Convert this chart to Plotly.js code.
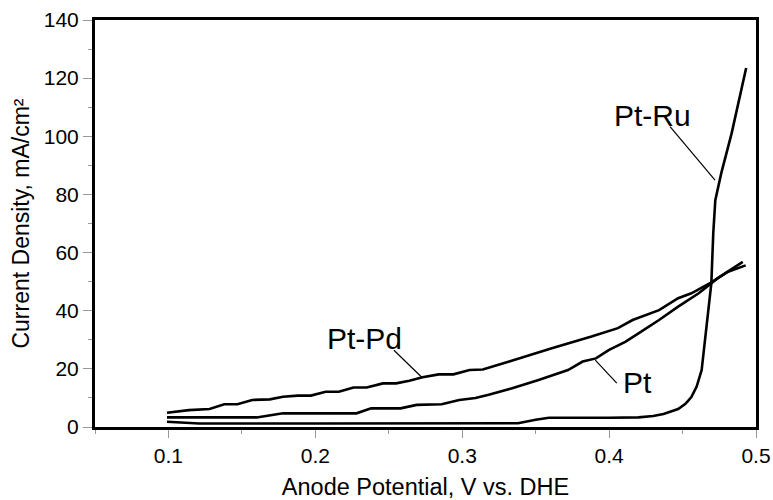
<!DOCTYPE html>
<html>
<head>
<meta charset="utf-8">
<script src="https://cdn.plot.ly/plotly-3.0.1.min.js"></script>
<style>html,body{margin:0;padding:0;background:#fff;}#chart{width:773px;height:500px;}</style>
</head>
<body>
<div id="chart"></div>
<script>
// Data
const ptPdX = [0.099, 0.114, 0.128, 0.138, 0.147, 0.157, 0.169, 0.178, 0.188, 0.197, 0.207, 0.216, 0.226, 0.235, 0.246, 0.255, 0.264, 0.273, 0.284, 0.294, 0.305, 0.314, 0.332, 0.361, 0.388, 0.406, 0.416, 0.434, 0.447, 0.456, 0.469, 0.481, 0.493];
const ptPdY = [4.9, 5.8, 6.2, 7.8, 7.8, 9.3, 9.5, 10.4, 10.8, 10.8, 12.1, 12.1, 13.6, 13.6, 15.0, 15.0, 15.9, 17.1, 18.1, 18.1, 19.6, 19.8, 22.5, 27.1, 31.1, 34.0, 36.8, 40.2, 44.3, 46.0, 49.6, 53.4, 55.6];

const ptX = [0.099, 0.160, 0.178, 0.228, 0.238, 0.258, 0.269, 0.286, 0.298, 0.309, 0.318, 0.334, 0.352, 0.372, 0.382, 0.391, 0.400, 0.411, 0.420, 0.434, 0.447, 0.461, 0.474, 0.491];
const ptY = [3.3, 3.3, 4.7, 4.7, 6.4, 6.4, 7.6, 7.8, 9.3, 10.0, 11.1, 13.3, 16.2, 19.6, 22.5, 23.6, 26.5, 29.3, 32.2, 36.8, 41.4, 46.0, 51.2, 56.8];

const ptRuX = [0.099, 0.121, 0.2, 0.3, 0.338, 0.35, 0.359, 0.4, 0.42, 0.43, 0.437, 0.447, 0.452, 0.456, 0.4596, 0.463, 0.4657, 0.4675, 0.4696, 0.4709, 0.4723, 0.4764, 0.4834, 0.4933];
const ptRuY = [1.8, 1.2, 1.2, 1.2, 1.3, 2.5, 3.2, 3.2, 3.3, 3.8, 4.5, 6.2, 8.0, 10.3, 13.9, 19.6, 31.9, 42.0, 49.5, 66.6, 78.0, 87.4, 101.0, 123.5];

const xTicks = [0.1, 0.2, 0.3, 0.4, 0.5];
const xTickText = ["0.1", "0.2", "0.3", "0.4", "0.5"];
const yTicks = [0, 20, 40, 60, 80, 100, 120, 140];

// Series labels: text position and leader line (from, to) in data units
const labelNames = ["Pt-Ru", "Pt-Pd", "Pt"];
const labelX = [0.4295, 0.2338, 0.4193];
const labelY = [107, 30.5, 15.2];
const leaderX0 = [0.4415, 0.2535, 0.3906];
const leaderY0 = [103.3, 26.4, 23.0];
const leaderX1 = [0.4721, 0.2723, 0.4052];
const leaderY1 = [84.9, 17.2, 15.1];

const FONT = '"Liberation Sans", Arial, Helvetica, sans-serif';
const lineStyle = {color: '#000', width: 2.6};

const traces = [
  {x: ptPdX, y: ptPdY, name: 'Pt-Pd', mode: 'lines', line: lineStyle},
  {x: ptX, y: ptY, name: 'Pt', mode: 'lines', line: lineStyle},
  {x: ptRuX, y: ptRuY, name: 'Pt-Ru', mode: 'lines', line: lineStyle}
];

const annotations = labelNames.map((t, i) => ({
  x: labelX[i], y: labelY[i], xref: 'x', yref: 'y', text: t, showarrow: false,
  xanchor: 'center', yanchor: 'middle', font: {family: FONT, size: 30, color: '#000'}
}));

const shapes = labelNames.map((t, i) => ({
  type: 'line', xref: 'x', yref: 'y',
  x0: leaderX0[i], y0: leaderY0[i], x1: leaderX1[i], y1: leaderY1[i],
  line: {color: '#000', width: 1.2}
}));

const layout = {
  width: 773, height: 500,
  margin: {l: 95, r: 17, t: 20, b: 73},
  paper_bgcolor: '#fff', plot_bgcolor: '#fff',
  showlegend: false,
  font: {family: FONT, color: '#000'},
  xaxis: {
    range: [0.05, 0.5], tickvals: xTicks, ticktext: xTickText,
    showgrid: false, zeroline: false,
    showline: true, linecolor: '#000', linewidth: 3, mirror: true,
    ticks: 'outside', ticklen: 8, tickwidth: 1, tickcolor: '#999',
    minor: {dtick: 0.05, tick0: 0.05, ticks: 'outside', ticklen: 4, tickwidth: 1, tickcolor: '#999', showgrid: false},
    tickfont: {family: FONT, size: 21, color: '#000'},
    title: {text: 'Anode Potential, V vs. DHE', font: {family: FONT, size: 23.5, color: '#000'}, standoff: 15}
  },
  yaxis: {
    range: [0, 140], tickvals: yTicks,
    showgrid: false, zeroline: false,
    showline: true, linecolor: '#000', linewidth: 3, mirror: true,
    ticks: 'outside', ticklen: 9, tickwidth: 1, tickcolor: '#999',
    minor: {dtick: 10, ticks: 'outside', ticklen: 4, tickwidth: 1, tickcolor: '#999', showgrid: false},
    tickfont: {family: FONT, size: 21, color: '#000'},
    title: {text: 'Current Density, mA/cm²', font: {family: FONT, size: 23, color: '#000'}, standoff: 8}
  },
  annotations: annotations,
  shapes: shapes
};

Plotly.newPlot('chart', traces, layout, {staticPlot: true, displayModeBar: false});
</script>
</body>
</html>
